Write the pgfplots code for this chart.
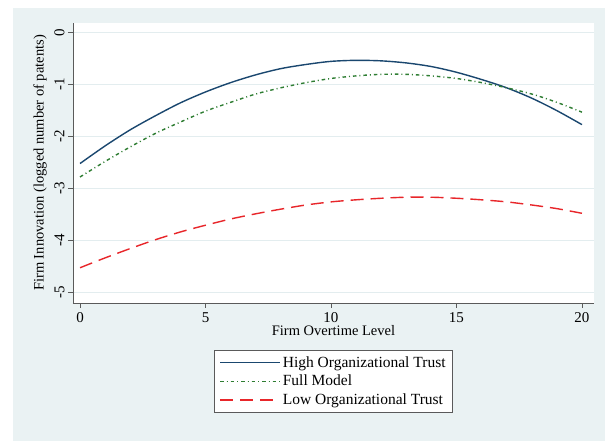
\documentclass[border=0pt]{standalone}
\usepackage{pgfplots}
\pgfplotsset{compat=1.18}
\usepackage{fontspec}
\setmainfont{Liberation Serif}
\definecolor{bgblue}{HTML}{EAF2F3}
\definecolor{gridc}{HTML}{E3EDEF}
\definecolor{navy}{HTML}{1A476F}
\definecolor{dgreen}{HTML}{2E7D32}
\definecolor{lred}{HTML}{E8262A}
\definecolor{axc}{HTML}{5A5A5A}
\begin{document}
\begin{tikzpicture}[x=1pt,y=1pt]
\path[use as bounding box, fill=white] (0,0) rectangle (607,441);
\fill[bgblue] (13,0) rectangle (605,433);
\begin{axis}[
  at={(73pt,138pt)}, anchor=south west,
  scale only axis, width=521pt, height=280pt,
  xmin=-0.28, xmax=20.48, ymin=-5.21, ymax=0.19,
  axis background/.style={fill=white},
  axis x line*=bottom, axis y line*=left,
  axis line style={axc, line width=0.8pt},
  xtick={0,5,10,15,20}, ytick={-5,-4,-3,-2,-1,0},
  tick align=outside, major tick length=5pt,
  tick style={axc, line width=0.8pt},
  ymajorgrids, grid style={gridc, line width=0.8pt},
  /pgf/number format/assume math mode=true,
  tick label style={font=\fontsize{15}{17}\selectfont, text=black},
  yticklabel style={rotate=90, anchor=south},
  xticklabel style={anchor=north, yshift=-1pt},
  xlabel={Firm Overtime Level},
  ylabel={Firm Innovation (logged number of patents)},
  label style={font=\fontsize{14.5}{16}\selectfont},
  xlabel style={at={(axis description cs:0.5,-0.1)}, anchor=center},
  ylabel style={at={(axis description cs:-0.063,0.5)}, anchor=center, rotate=0},
  legend style={at={(axis description cs:0.5,-0.168)}, anchor=north,
    draw=axc, line width=0.8pt, fill=white, font=\fontsize{15.5}{17}\selectfont,
    row sep=2.5pt, inner xsep=5pt, inner ysep=4pt, cells={anchor=west}},
  legend image code/.code={\draw[#1, line width=1.4pt] (0pt,0pt) -- (55pt,0pt); \path (0pt,0pt) -- (60pt,0pt);},
  legend cell align=left,
]
\addplot[navy, line width=1.4pt, smooth] coordinates {
(0,-2.52) (1,-2.18) (2,-1.87) (3,-1.60) (4,-1.35) (5,-1.14) (6,-0.96) (7,-0.81)
(8,-0.69) (9,-0.61) (10,-0.55) (11,-0.53) (12,-0.54) (13,-0.58) (14,-0.65)
(15,-0.76) (16,-0.90) (17,-1.06) (18,-1.26) (19,-1.50) (20,-1.77)};
\addlegendentry{High Organizational Trust}
\addplot[dgreen, line width=1.4pt, smooth, dash pattern=on 3.5pt off 3pt on 1pt off 3pt] coordinates {
(0,-2.78) (1,-2.48) (2,-2.20) (3,-1.94) (4,-1.72) (5,-1.51) (6,-1.34) (7,-1.18)
(8,-1.06) (9,-0.96) (10,-0.88) (11,-0.83) (12,-0.80) (13,-0.80) (14,-0.83)
(15,-0.88) (16,-0.96) (17,-1.06) (18,-1.18) (19,-1.34) (20,-1.53)};
\addlegendentry{Full Model}
\addplot[lred, line width=1.4pt, smooth, dash pattern=on 13pt off 7pt] coordinates {
(0,-4.53) (1,-4.34) (2,-4.16) (3,-3.99) (4,-3.84) (5,-3.71) (6,-3.59) (7,-3.49)
(8,-3.40) (9,-3.32) (10,-3.26) (11,-3.22) (12,-3.19) (13,-3.17) (14,-3.17)
(15,-3.19) (16,-3.22) (17,-3.26) (18,-3.32) (19,-3.39) (20,-3.48)};
\addlegendentry{Low Organizational Trust}
\end{axis}
\end{tikzpicture}
\end{document}
